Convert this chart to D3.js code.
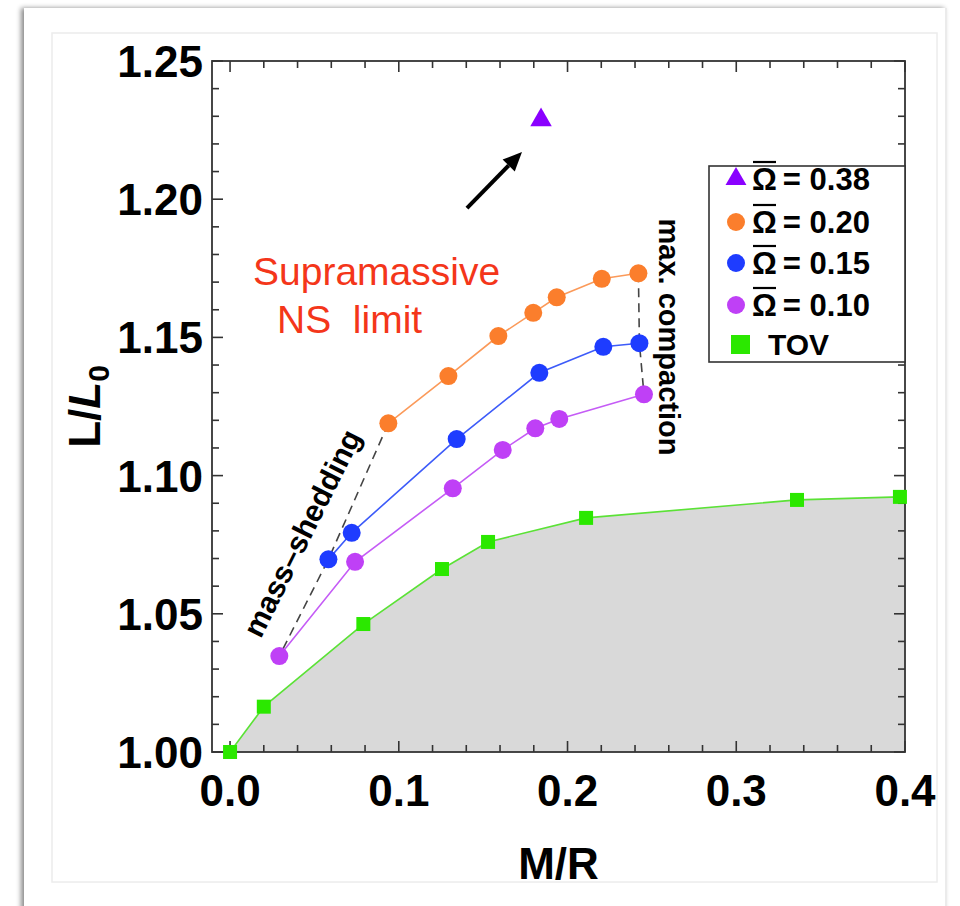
<!DOCTYPE html>
<html><head><meta charset="utf-8">
<script src="https://cdn.jsdelivr.net/npm/d3@7"></script>
<style>body{margin:0;background:#fff}svg{display:block}</style>
</head><body><svg id="c" width="960" height="906"></svg>
<script>
// ---- data ----
const tovX = [0.000, 0.020, 0.079, 0.1256, 0.1529, 0.211, 0.336, 0.397];
const tovL = [1.000, 1.0164, 1.0463, 1.0662, 1.0760, 1.0847, 1.0912, 1.0923];
const om10X = [0.0292, 0.0741, 0.132, 0.1616, 0.1809, 0.1951, 0.2453];
const om10L = [1.0347, 1.0688, 1.0954, 1.1093, 1.1171, 1.1205, 1.1294];
const om15X = [0.0583, 0.0721, 0.1343, 0.1833, 0.2212, 0.2426];
const om15L = [1.0697, 1.0793, 1.1132, 1.1372, 1.1466, 1.1479];
const om20X = [0.0938, 0.1294, 0.1590, 0.1797, 0.1936, 0.2203, 0.2420];
const om20L = [1.1189, 1.1360, 1.1505, 1.1589, 1.1645, 1.1712, 1.1732];
const om38X = [0.1843];
const om38L = [1.2294];
const xTicks = [0.0, 0.1, 0.2, 0.3, 0.4];
const xTickLabels = ["0.0", "0.1", "0.2", "0.3", "0.4"];
const yTicks = [1.00, 1.05, 1.10, 1.15, 1.20, 1.25];
const yTickLabels = ["1.00", "1.05", "1.10", "1.15", "1.20", "1.25"];
const legendValues = ["0.38", "0.20", "0.15", "0.10"];
const arrowFrom = [0.1404, 1.1968];
const arrowTo = [0.1730, 1.2171];

// ---- layout ----
const svg = d3.select("#c");
const L = 212, R = 905, T = 61, B = 752;
const x = d3.scaleLinear().domain([-0.0107, 0.4]).range([L, R]);
const y = d3.scaleLinear().domain([1.0, 1.25]).range([B, T]);
const FONT = "'Liberation Sans', Arial, Helvetica, sans-serif";

// card frame
const defs = svg.append("defs");
const f = defs.append("filter").attr("id", "sh").attr("x", "-5%").attr("y", "-5%").attr("width", "110%").attr("height", "110%");
f.append("feDropShadow").attr("dx", -3).attr("dy", 0).attr("stdDeviation", 2.5).attr("flood-color", "#000").attr("flood-opacity", 0.45);
svg.append("rect").attr("x", 24).attr("y", 8).attr("width", 923).attr("height", 910).attr("fill", "#fff").attr("filter", "url(#sh)");
svg.append("line").attr("x1", 946).attr("x2", 946).attr("y1", 8).attr("y2", 906).attr("stroke", "#e4e4e4").attr("stroke-width", 1.5);
svg.append("rect").attr("x", 52).attr("y", 33).attr("width", 885).attr("height", 849).attr("fill", "none").attr("stroke", "#ececec").attr("stroke-width", 1.5);

const plot = svg.append("g");
defs.append("clipPath").attr("id", "pc").append("rect").attr("x", L).attr("y", T).attr("width", R - L).attr("height", B - T);

// TOV shaded area
const tov = tovX.map((v, i) => [v, tovL[i]]);
const areaPts = tov.concat([[x.domain()[1], tovL[tovL.length - 1]]]);
plot.append("path").datum(areaPts)
  .attr("d", d3.area().x(d => x(d[0])).y0(y(1.0)).y1(d => y(d[1])))
  .attr("fill", "#d9d9d9").attr("clip-path", "url(#pc)");

// axes ticks (inward on all four sides)
const xMinor = d3.range(0, 0.4001, 0.02).map(v => +v.toFixed(2));
const yMinor = d3.range(1.0, 1.2501, 0.01).map(v => +v.toFixed(2));
const isMajX = v => xTicks.some(t => Math.abs(t - v) < 1e-6);
const isMajY = v => yTicks.some(t => Math.abs(t - v) < 1e-6);
const axG = svg.append("g").attr("stroke", "#333").attr("stroke-width", 1.6);
xMinor.forEach(v => {
  const len = isMajX(v) ? 11 : 7;
  axG.append("line").attr("x1", x(v)).attr("x2", x(v)).attr("y1", B).attr("y2", B - len);
  axG.append("line").attr("x1", x(v)).attr("x2", x(v)).attr("y1", T).attr("y2", T + len);
});
yMinor.forEach(v => {
  const len = isMajY(v) ? 11 : 7;
  axG.append("line").attr("y1", y(v)).attr("y2", y(v)).attr("x1", L).attr("x2", L + len);
  axG.append("line").attr("y1", y(v)).attr("y2", y(v)).attr("x1", R).attr("x2", R - len);
});
svg.append("rect").attr("x", L).attr("y", T).attr("width", R - L).attr("height", B - T)
  .attr("fill", "none").attr("stroke", "#333").attr("stroke-width", 1.8);

// tick labels
svg.append("g").selectAll("text").data(xTicks).join("text")
  .attr("x", d => x(d)).attr("y", 806).attr("text-anchor", "middle")
  .attr("font-family", FONT).attr("font-weight", "bold").attr("font-size", 44)
  .text((d, i) => xTickLabels[i]);
svg.append("g").selectAll("text").data(yTicks).join("text")
  .attr("x", L - 9).attr("y", d => y(d) + 16).attr("text-anchor", "end")
  .attr("font-family", FONT).attr("font-weight", "bold").attr("font-size", 44)
  .text((d, i) => yTickLabels[i]);

// axis titles
svg.append("text").attr("x", (L + R) / 2).attr("y", 879).attr("text-anchor", "middle")
  .attr("font-family", FONT).attr("font-weight", "bold").attr("font-size", 44).text("M/R");
const yt = svg.append("text").attr("transform", `translate(100,${(T + B) / 2}) rotate(-90)`)
  .attr("text-anchor", "middle").attr("font-family", FONT).attr("font-weight", "bold").attr("font-size", 44);
yt.append("tspan").text("L/");
yt.append("tspan").attr("font-style", "italic").text("L");
yt.append("tspan").attr("font-size", 30).attr("dy", 9).text("0");

// dashed boundary lines
const dashLine = d3.line().x(d => x(d[0])).y(d => y(d[1]));
const massShed = [[om20X[0], om20L[0]], [om15X[0], om15L[0]], [om10X[0], om10L[0]]];
const maxComp = [[om20X[om20X.length - 1], om20L[om20L.length - 1]], [om15X[om15X.length - 1], om15L[om15L.length - 1]], [om10X[om10X.length - 1], om10L[om10L.length - 1]]];
[massShed, maxComp].forEach(p => plot.append("path").attr("d", dashLine(p)).attr("fill", "none")
  .attr("stroke", "#444").attr("stroke-width", 1.6).attr("stroke-dasharray", "9,6"));

// series
const series = [
  { xs: om10X, ls: om10L, fill: "#bf40f6", line: "#c55cf6" },
  { xs: om15X, ls: om15L, fill: "#1e3cff", line: "#3d5bf9" },
  { xs: om20X, ls: om20L, fill: "#fb7e2c", line: "#fb9a5a" },
];
const ln = d3.line().x(d => x(d[0])).y(d => y(d[1]));
plot.append("path").datum(tov).attr("d", ln).attr("fill", "none").attr("stroke", "#5be236").attr("stroke-width", 1.6);
series.forEach(s => {
  const pts = s.xs.map((v, i) => [v, s.ls[i]]);
  plot.append("path").datum(pts).attr("d", ln).attr("fill", "none").attr("stroke", s.line).attr("stroke-width", 1.6);
});
series.forEach(s => {
  const pts = s.xs.map((v, i) => [v, s.ls[i]]);
  plot.append("g").selectAll("circle").data(pts).join("circle")
    .attr("cx", d => x(d[0])).attr("cy", d => y(d[1])).attr("r", 9).attr("fill", s.fill);
});
svg.append("g").selectAll("rect").data(tov).join("rect")
  .attr("x", d => x(d[0]) - 7).attr("y", d => y(d[1]) - 7).attr("width", 14).attr("height", 14).attr("fill", "#2be800");
const tri = d3.symbol().type(d3.symbolTriangle).size(200);
svg.append("g").selectAll("path").data(om38X.map((v, i) => [v, om38L[i]])).join("path")
  .attr("transform", d => `translate(${x(d[0])},${y(d[1]) + 2})`).attr("d", tri).attr("fill", "#8a00ff");

// arrow
const ax1 = x(arrowFrom[0]), ay1 = y(arrowFrom[1]), ax2 = x(arrowTo[0]), ay2 = y(arrowTo[1]);
const ang = Math.atan2(ay2 - ay1, ax2 - ax1);
const hl = 19, hw = 8.5;
const bx = ax2 - hl * Math.cos(ang), by = ay2 - hl * Math.sin(ang);
svg.append("line").attr("x1", ax1).attr("y1", ay1).attr("x2", bx).attr("y2", by).attr("stroke", "#000").attr("stroke-width", 4);
svg.append("path").attr("d", `M${ax2},${ay2}L${bx + hw * Math.sin(ang)},${by - hw * Math.cos(ang)}L${bx - hw * Math.sin(ang)},${by + hw * Math.cos(ang)}Z`).attr("fill", "#000");

// annotations
const red = svg.append("g").attr("font-family", FONT).attr("font-size", 39).attr("fill", "#f4361a");
red.append("text").attr("x", 253).attr("y", 285).text("Supramassive");
red.append("text").attr("x", 277).attr("y", 333).style("white-space", "pre").text("NS  limit");
svg.append("text").attr("transform", "translate(302,533) rotate(-63.5)").attr("text-anchor", "middle")
  .attr("dominant-baseline", "central").attr("font-family", FONT).attr("font-weight", "bold").attr("font-size", 30).text("mass\u2013shedding");
svg.append("text").attr("transform", "translate(669,337) rotate(90)").attr("text-anchor", "middle")
  .attr("dominant-baseline", "central").attr("font-family", FONT).attr("font-weight", "bold").attr("font-size", 29).text("max. compaction");

// legend
const lg = svg.append("g");
lg.append("rect").attr("x", 709).attr("y", 166).attr("width", R - 709).attr("height", 196).attr("fill", "#fff").attr("stroke", "#333").attr("stroke-width", 1.6);
const rowY = [178, 221, 262, 304, 344];
const legCol = ["#8a00ff", "#fb7e2c", "#1e3cff", "#bf40f6"];
legendValues.forEach((v, i) => {
  const ry = rowY[i];
  if (i === 0) lg.append("path").attr("transform", `translate(736,${ry + 1})`).attr("d", d3.symbol().type(d3.symbolTriangle).size(190)).attr("fill", legCol[0]);
  else lg.append("circle").attr("cx", 736).attr("cy", ry + 1).attr("r", 9).attr("fill", legCol[i]);
  const t = lg.append("text").attr("x", 752).attr("y", ry + 12).attr("font-family", FONT).attr("font-weight", "bold").attr("font-size", 31);
  t.append("tspan").text("\u03A9");
  t.append("tspan").attr("dx", 6).text("= " + v);
  lg.append("line").attr("x1", 753).attr("x2", 776).attr("y1", ry - 16).attr("y2", ry - 16).attr("stroke", "#000").attr("stroke-width", 2.2);
});
lg.append("rect").attr("x", 731).attr("y", rowY[4] - 9).attr("width", 19).attr("height", 19).attr("fill", "#2be800");
lg.append("text").attr("x", 768).attr("y", rowY[4] + 11).attr("font-family", FONT).attr("font-weight", "bold").attr("font-size", 30).text("TOV");
</script></body></html>
